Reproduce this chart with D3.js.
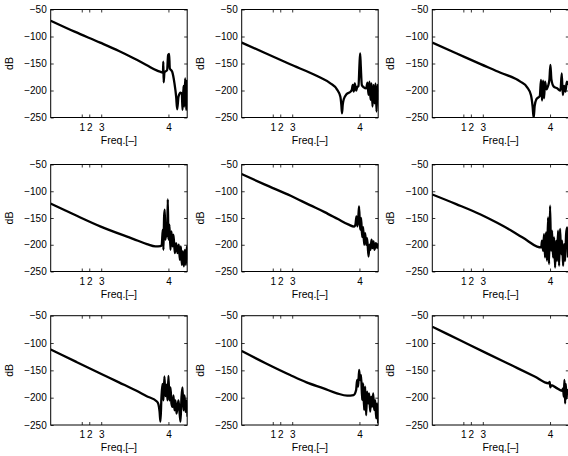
<!DOCTYPE html>
<html>
<head>
<meta charset="utf-8">
<script src="https://cdn.jsdelivr.net/npm/d3@7"></script>
<style>
  body { margin: 0; background: #fff; }
  text { font-family: "Liberation Sans", Arial, Helvetica, sans-serif; }
</style>
</head>
<body>
<div id="chart"></div>
<script>
// x is log10 of frequency (decades), y is magnitude in dB
const xTicks = [0.91, 1.13, 1.48, 3.45];
const xTickLabels = ["1", "2", "3", "4"];
const yTicks = [-50, -100, -150, -200, -250];

const p1 = [[0,-70.7],[0.7,-91],[1.45,-111.4],[2.0,-127],[2.43,-140.4],[2.82,-153.3],[3.12,-163.2],[3.26,-166.3],[3.29,-167],[3.30,-146.6],[3.31,-184.8],[3.333,-166.9],[3.412,-162],[3.441,-134.2],[3.471,-132.4],[3.49,-158.9],[3.559,-165.1],[3.627,-186.7],[3.676,-211.3],[3.706,-234.8],[3.745,-211.3],[3.804,-204],[3.843,-206.4],[3.863,-236],[3.892,-191.6],[3.912,-229.9],[3.941,-177.4],[3.971,-236],[4.0,-180.5]];
const p2 = [[0,-111.4],[0.7,-131],[1.42,-151.5],[2.21,-173.1],[2.6,-186.7],[2.79,-197.8],[2.89,-211.3],[2.92,-226.8],[2.94,-242.2],[2.96,-226.8],[2.99,-216.3],[3.07,-207],[3.19,-202.1],[3.225,-199],[3.255,-189.7],[3.284,-202],[3.314,-186.7],[3.353,-200.2],[3.382,-194.1],[3.422,-191.6],[3.451,-152.7],[3.471,-131.1],[3.49,-155.8],[3.52,-189.7],[3.578,-194.1],[3.647,-195.9],[3.686,-185.4],[3.716,-208.2],[3.745,-183.6],[3.775,-217.5],[3.804,-186.7],[3.833,-229.9],[3.863,-189.7],[3.892,-223.7],[3.922,-186.7],[3.951,-239.1],[3.98,-189.7],[4.01,-217.5]];
const p3 = [[0,-111.4],[0.7,-131],[1.4,-150.6],[2.0,-167],[2.58,-183.6],[2.78,-194.1],[2.89,-208.3],[2.94,-229.9],[2.97,-251.4],[3.0,-228.6],[3.05,-216.3],[3.15,-210.1],[3.186,-180.5],[3.216,-218.7],[3.245,-181.7],[3.275,-214.4],[3.304,-183.6],[3.343,-197.8],[3.392,-191.6],[3.431,-180.5],[3.461,-152.7],[3.49,-179.3],[3.559,-192.8],[3.657,-195.9],[3.755,-200.2],[3.794,-168.2],[3.824,-208.3],[3.863,-191.6],[3.902,-202.1],[3.941,-183.6],[3.99,-189.7]];
const p4 = [[0,-123.1],[0.7,-144],[1.45,-165.6],[2.43,-189.4],[2.82,-198.8],[3.07,-203.1],[3.22,-202.5],[3.255,-200],[3.284,-171.9],[3.304,-209.4],[3.324,-146.9],[3.343,-134.4],[3.363,-190.6],[3.392,-165.6],[3.412,-184.4],[3.431,-115],[3.451,-190.6],[3.48,-162.5],[3.51,-209.4],[3.539,-175],[3.569,-203.1],[3.598,-181.3],[3.637,-215.6],[3.676,-196.9],[3.716,-215.6],[3.755,-200],[3.784,-228.1],[3.814,-203.1],[3.843,-237.5],[3.873,-212.5],[3.902,-240.6],[3.931,-209.4],[3.961,-237.5],[3.99,-203.1],[4.02,-228.1]];
const p5 = [[0,-68],[0.7,-88],[1.45,-109],[2.0,-126],[2.43,-139],[2.82,-152],[3.12,-162],[3.3,-166],[3.333,-162.5],[3.363,-146.9],[3.392,-165.6],[3.422,-143.8],[3.441,-128.1],[3.471,-171.9],[3.5,-150],[3.529,-185.6],[3.559,-166.9],[3.588,-200],[3.618,-178.1],[3.647,-200],[3.676,-187.5],[3.716,-221.9],[3.745,-200],[3.775,-209.4],[3.804,-190.6],[3.833,-206.3],[3.863,-193.8],[3.892,-209.4],[3.931,-196.9],[3.971,-206.3],[4.01,-196.9]];
const p6 = [[0,-106],[0.7,-124],[1.4,-143],[1.9,-159],[2.38,-176],[2.78,-192],[3.07,-203.5],[3.19,-205],[3.216,-192.5],[3.245,-211.3],[3.275,-180],[3.304,-223.8],[3.333,-176.9],[3.363,-230],[3.392,-148.8],[3.422,-236.3],[3.451,-126.9],[3.48,-211.3],[3.51,-173.8],[3.539,-223.8],[3.569,-186.3],[3.598,-242.5],[3.627,-192.5],[3.657,-230],[3.686,-173.8],[3.716,-239.4],[3.745,-170.6],[3.775,-217.5],[3.804,-192.5],[3.833,-239.4],[3.863,-198.8],[3.892,-230],[3.922,-180],[3.951,-167.5],[3.98,-223.8]];
const p7 = [[0,-112],[0.75,-134.5],[1.5,-157],[2.0,-172],[2.5,-187],[2.8,-197],[3.12,-207.4],[3.16,-213],[3.19,-225],[3.216,-244],[3.245,-200],[3.275,-175],[3.304,-205],[3.333,-161],[3.363,-197],[3.392,-176],[3.422,-205],[3.451,-160],[3.48,-205],[3.51,-181],[3.539,-211],[3.569,-217],[3.598,-196],[3.627,-223],[3.657,-205],[3.686,-229],[3.716,-217],[3.745,-205],[3.775,-226],[3.804,-244],[3.833,-199],[3.863,-181],[3.892,-223],[3.922,-196],[3.951,-226],[3.98,-205],[4.01,-235]];
const p8 = [[0,-114.7],[0.7,-137],[1.42,-158.6],[1.9,-172],[2.4,-183],[2.79,-192],[3.09,-196.4],[3.28,-195.2],[3.353,-186],[3.382,-167.7],[3.412,-179.9],[3.441,-149.4],[3.471,-167.7],[3.5,-158.6],[3.529,-204.3],[3.559,-173.8],[3.588,-222.6],[3.618,-179.9],[3.647,-231.8],[3.676,-189],[3.706,-210.4],[3.735,-192.1],[3.765,-225.7],[3.794,-198.2],[3.824,-216.5],[3.853,-192.1],[3.882,-222.6],[3.912,-204.3],[3.941,-237.9],[3.971,-210.4],[4.0,-247]];
const p9 = [[0,-70.1],[0.8,-94.5],[1.6,-118.9],[2.4,-143.1],[3.0,-161.3],[3.41,-173.8],[3.44,-171],[3.46,-181],[3.48,-176.9],[3.66,-183],[3.8,-187.3],[3.833,-183],[3.853,-198.2],[3.873,-167.7],[3.892,-210.4],[3.912,-174.8],[3.931,-201.3],[3.961,-186],[3.99,-195.2]];

const panels = [p1, p2, p3, p4, p5, p6, p7, p8, p9];

const width = 568, height = 456;
const colLeft = [50.7, 241.7, 432.3];
const plotW = 136.5;
const rowTop = [9.5, 164.5, 315.7];
const rowH = [108, 107, 109.3];

const svg = d3.select("#chart").append("svg")
    .attr("width", width)
    .attr("height", height);

panels.forEach((data, i) => {
    const r = Math.floor(i / 3), c = i % 3;
    const h = rowH[r];

    const x = d3.scaleLinear().domain([0, 4]).range([0, plotW]);
    const y = d3.scaleLinear().domain([-250, -50]).range([h, 0]);

    const g = svg.append("g")
        .attr("transform", `translate(${colLeft[c]},${rowTop[r]})`);

    g.append("clipPath").attr("id", "clip" + i)
        .append("rect").attr("width", plotW).attr("height", h);

    // axes, ticks pointing inward
    const left = g.append("g")
        .call(d3.axisLeft(y).tickValues(yTicks).tickSize(-3).tickSizeOuter(0).tickPadding(4));
    const right = g.append("g").attr("transform", `translate(${plotW},0)`)
        .call(d3.axisRight(y).tickValues(yTicks).tickSize(-3).tickSizeOuter(0).tickFormat(""));
    const bottom = g.append("g").attr("transform", `translate(0,${h})`)
        .call(d3.axisBottom(x).tickValues(xTicks).tickSize(-3).tickSizeOuter(0).tickPadding(6)
            .tickFormat((d, k) => xTickLabels[k]));
    const top = g.append("g")
        .call(d3.axisTop(x).tickValues(xTicks).tickSize(-3).tickSizeOuter(0).tickFormat(""));

    [left, right, bottom, top].forEach(a => {
        a.select(".domain").remove();
        a.selectAll("text").attr("font-size", 10).attr("fill", "#000")
            .style("font-family", '"Liberation Sans", Arial, sans-serif');
        a.selectAll("line").attr("stroke", "#000").attr("stroke-width", 0.8);
    });

    g.append("rect")
        .attr("width", plotW).attr("height", h)
        .attr("fill", "none").attr("stroke", "#000").attr("stroke-width", 1);

    const line = d3.line()
        .x(d => x(d[0]))
        .y(d => y(d[1]))
        .curve(d3.curveMonotoneX);

    g.append("path")
        .datum(data)
        .attr("clip-path", `url(#clip${i})`)
        .attr("d", line)
        .attr("fill", "none")
        .attr("stroke", "#000")
        .attr("stroke-width", 2.3)
        .attr("stroke-linejoin", "round");

    g.append("text")
        .attr("x", plotW / 2).attr("y", h + 26)
        .attr("text-anchor", "middle")
        .attr("font-size", 10.5)
        .text("Freq.[–]");

    g.append("text")
        .attr("transform", `translate(-38,${h / 2}) rotate(-90)`)
        .attr("text-anchor", "middle")
        .attr("font-size", 10.5)
        .text("dB");
});
</script>
</body>
</html>
